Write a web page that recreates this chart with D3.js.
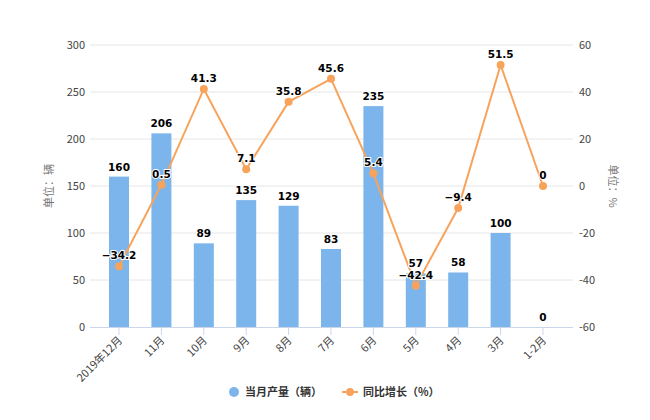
<!DOCTYPE html>
<html><head><meta charset="utf-8">
<script src="https://cdn.jsdelivr.net/npm/d3@7"></script>
<style>body{margin:0;background:#fff;font-family:"Noto Sans CJK SC","Noto Sans",sans-serif;}</style>
</head><body>
<svg id="c" width="650" height="420"></svg>
<script>
const categories = ["2019年12月","11月","10月","9月","8月","7月","6月","5月","4月","3月","1-2月"];
const production = [160,206,89,135,129,83,235,57,58,100,0];
const growth = [-34.2,0.5,41.3,7.1,35.8,45.6,5.4,-42.4,-9.4,51.5,0];
const leftTicks = [0,50,100,150,200,250,300];
const rightTicks = [-60,-40,-20,0,20,40,60];
const seriesNames = ["当月产量（辆）","同比增长（%）"];

(function(){
const svg = d3.select("#c");
const plotL = 90, plotR = 573, plotTop = 45, plotBottom = 327;
const font = "'Noto Sans CJK SC','Noto Sans',sans-serif";
const x = d3.scalePoint().domain(categories).range([119, 543]);
const yL = d3.scaleLinear().domain([0,300]).range([plotBottom, plotTop]);
const yR = d3.scaleLinear().domain([-60,60]).range([plotBottom, plotTop]);

svg.append("g").selectAll("line").data(leftTicks.slice(1)).join("line")
  .attr("x1", plotL).attr("x2", plotR).attr("y1", d=>yL(d)).attr("y2", d=>yL(d))
  .attr("stroke", "#e6e6e6").attr("stroke-width", 1);

svg.append("g").selectAll("text").data(leftTicks).join("text")
  .attr("x", 85).attr("y", d=>yL(d)+4).attr("text-anchor","end")
  .attr("font-size", 11).attr("fill", "#444").attr("font-family", font).text(d=>d);
svg.append("g").selectAll("text").data(rightTicks).join("text")
  .attr("x", 579).attr("y", d=>yR(d)+4).attr("text-anchor","start")
  .attr("font-size", 11).attr("fill", "#444").attr("font-family", font).text(d=>d);

svg.append("text").attr("transform","translate(53,186) rotate(-90)").attr("text-anchor","middle")
  .attr("font-size", 11).attr("fill","#777").attr("font-family", font).text("单位：辆");
svg.append("text").attr("transform","translate(609,186) rotate(90)").attr("text-anchor","middle")
  .attr("font-size", 11).attr("fill","#777").attr("font-family", font).text("单位：%");

const bw = 20;
svg.append("g").selectAll("rect").data(production).join("rect")
  .attr("x", (d,i)=>x(categories[i]) - bw/2).attr("width", bw)
  .attr("y", d=>yL(d)).attr("height", d=>plotBottom - yL(d))
  .attr("fill", "#7cb5ec");

svg.append("line").attr("x1", plotL).attr("x2", plotR).attr("y1", plotBottom+0.5).attr("y2", plotBottom+0.5)
  .attr("stroke", "#ccd6eb");
svg.append("g").selectAll("line").data(categories).join("line")
  .attr("x1", d=>x(d)).attr("x2", d=>x(d)).attr("y1", plotBottom).attr("y2", plotBottom+8)
  .attr("stroke", "#ccd6eb");
svg.append("g").selectAll("text").data(categories).join("text")
  .attr("transform", d=>`translate(${x(d)+4},${plotBottom+14}) rotate(-45)`)
  .attr("text-anchor","end").attr("font-size", 11).attr("fill","#444").attr("font-family", font)
  .text(d=>d);

const line = d3.line().x((d,i)=>x(categories[i])).y(d=>yR(d));
svg.append("path").datum(growth).attr("d", line).attr("fill","none")
  .attr("stroke","#f7a35c").attr("stroke-width", 2);
svg.append("g").selectAll("circle").data(growth).join("circle")
  .attr("cx", (d,i)=>x(categories[i])).attr("cy", d=>yR(d)).attr("r", 4).attr("fill", "#f7a35c");

function label(g, data, xf, yf, fmt){
  g.selectAll("text").data(data).join("text")
    .attr("x", xf).attr("y", yf).attr("text-anchor","middle")
    .attr("font-size", 10.5).attr("font-weight","bold").attr("fill","#000")
    .attr("stroke","#fff").attr("stroke-width", 2).attr("paint-order","stroke")
    .attr("font-family", "'DejaVu Sans',sans-serif").text(fmt);
}
label(svg.append("g"), production, (d,i)=>x(categories[i]), d=>yL(d)-6, d=>d);
label(svg.append("g"), growth, (d,i)=>x(categories[i]), d=>yR(d)-7, d=>d<0?"−"+Math.abs(d):d);

const lg = svg.append("g");
lg.append("circle").attr("cx", 234).attr("cy", 392).attr("r", 5).attr("fill", "#7cb5ec");
lg.append("text").attr("x", 245).attr("y", 396).attr("font-size", 11).attr("font-weight","bold")
  .attr("fill","#333").attr("font-family", font).text(seriesNames[0]);
lg.append("line").attr("x1", 342).attr("x2", 358).attr("y1", 392).attr("y2", 392)
  .attr("stroke","#f7a35c").attr("stroke-width", 2);
lg.append("circle").attr("cx", 350).attr("cy", 392).attr("r", 4).attr("fill", "#f7a35c");
lg.append("text").attr("x", 363).attr("y", 396).attr("font-size", 11).attr("font-weight","bold")
  .attr("fill","#333").attr("font-family", font).text(seriesNames[1]);
})();
</script>
</body></html>
